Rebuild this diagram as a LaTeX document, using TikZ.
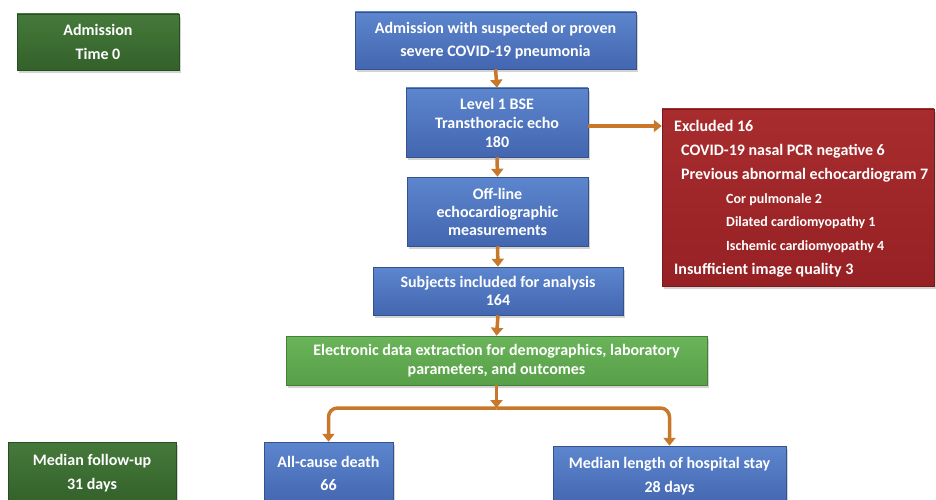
\documentclass[tikz,border=0pt]{standalone}
\usepackage{fontspec}
\setmainfont{Carlito}
\usetikzlibrary{arrows.meta,shadows}
\definecolor{bluetop}{HTML}{5C86CE}
\definecolor{bluebot}{HTML}{4366B0}
\definecolor{dgtop}{HTML}{45793A}
\definecolor{dgbot}{HTML}{33612A}
\definecolor{lgtop}{HTML}{6AB45A}
\definecolor{lgbot}{HTML}{579F48}
\definecolor{redtop}{HTML}{A82C2E}
\definecolor{redbot}{HTML}{962124}
\definecolor{arrcol}{HTML}{C8782A}
\tikzset{
  box/.style={draw=#1, line width=0.5pt, inner sep=0pt, align=center, text=white,
    drop shadow={opacity=0.35, shadow xshift=2pt, shadow yshift=-3pt}},
  bluebox/.style={box=bluebot!80!black, top color=bluetop, bottom color=bluebot},
  dgbox/.style={box=dgbot!80!black, top color=dgtop, bottom color=dgbot},
  lgbox/.style={box=lgbot!80!black, top color=lgtop, bottom color=lgbot},
  redbox/.style={box=redbot!80!black, top color=redtop, bottom color=redbot},
  fs/.style={font=\bfseries\fontsize{16}{#1}\selectfont},
  exl/.style={anchor=base west, inner sep=0pt, text=white, font=\bfseries\fontsize{16}{18}\selectfont},
  exs/.style={anchor=base west, inner sep=0pt, text=white, font=\bfseries\fontsize{14}{16}\selectfont},
  arr/.style={draw=arrcol, line width=3.5pt, -{Triangle[length=8pt,width=12pt]}},
}
\begin{document}
\begin{tikzpicture}[x=1pt,y=-1pt]
\useasboundingbox (0,0) rectangle (936,500);
\clip (0,0) rectangle (936,500);
% left column
\node[dgbox, fs=24, minimum width=162pt, minimum height=56pt] (adm) at (98,42) {Admission\\Time 0};
\node[dgbox, fs=24, minimum width=168pt, minimum height=62pt] (fol) at (92,473) {Median follow-up\\31 days};
% main flow
\node[bluebox, fs=23, minimum width=281pt, minimum height=57pt] (top) at (495.5,40.5) {Admission with suspected or proven\\severe COVID-19 pneumonia};
\node[bluebox, fs=19, minimum width=182pt, minimum height=69pt] (l1) at (497,122.5) {Level 1 BSE\\Transthoracic echo\\180};
\node[bluebox, fs=18, minimum width=181pt, minimum height=69pt] (off) at (497.5,211.5) {Off-line\\echocardiographic\\measurements};
\node[bluebox, fs=18, minimum width=250pt, minimum height=48pt] (sub) at (498,291) {Subjects included for analysis\\164};
\node[lgbox, fs=19, minimum width=421pt, minimum height=49pt] (ele) at (496.5,360.5) {Electronic data extraction for demographics, laboratory\\parameters, and outcomes};
\node[bluebox, fs=23, minimum width=129pt, minimum height=62pt] (dth) at (328.5,473) {All-cause death\\66};
\node[bluebox, fs=24, minimum width=233pt, minimum height=60pt] (los) at (669.5,476) {Median length of hospital stay\\28 days};
% excluded box
\node[redbox, minimum width=272pt, minimum height=177pt] (exc) at (798,197.5) {};
\node[exl] (e1) at (674,131.5) {Excluded 16};
\node[exl] (e2) at (681,155.5) {COVID-19 nasal PCR negative 6};
\node[exl] (e3) at (681,179.5) {Previous abnormal echocardiogram 7};
\node[exs] (e4) at (726,203) {Cor pulmonale 2};
\node[exs] (e5) at (726,226) {Dilated cardiomyopathy 1};
\node[exs] (e6) at (726,250) {Ischemic cardiomyopathy 4};
\node[exl] (e7) at (674,274.5) {Insufficient image quality 3};
% arrows
\draw[arr] (top.south) -- (l1.north);
\draw[arr] (l1.south) -- (off.north);
\draw[arr] (off.south) -- (sub.north);
\draw[arr] (sub.south) -- (ele.north);
\draw[arr] (l1.east |- 0,126) -- (exc.west |- 0,126);
\coordinate (bj) at (496.5,408);
\draw[arr] (ele.south) -- (bj);
\draw[arr, rounded corners=9pt] (bj) -| (dth.north);
\draw[arr, rounded corners=9pt] (bj) -| (los.north);
\end{tikzpicture}
\end{document}
